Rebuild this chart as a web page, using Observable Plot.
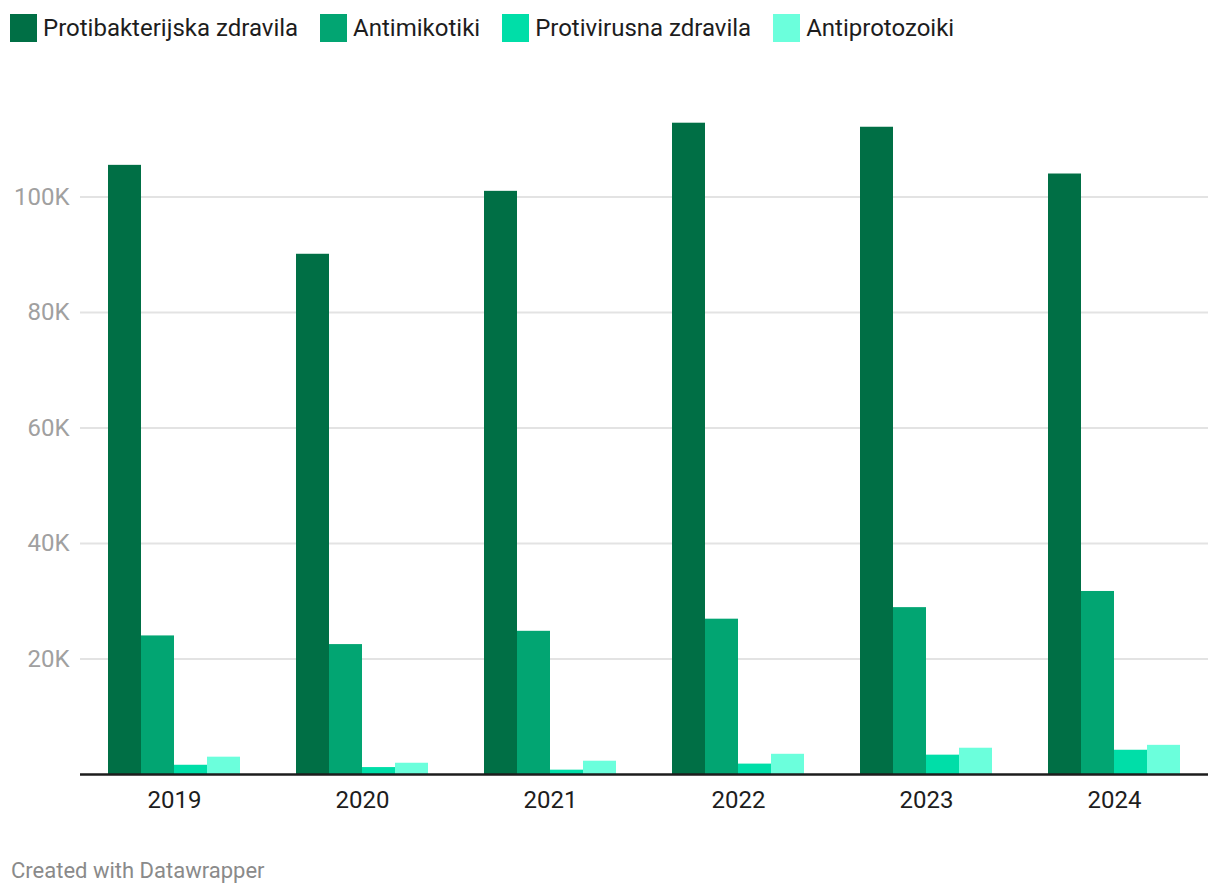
<!DOCTYPE html>
<html>
<head>
<meta charset="utf-8">
<script src="https://cdn.jsdelivr.net/npm/d3@7"></script>
<script src="https://cdn.jsdelivr.net/npm/@observablehq/plot@0.6"></script>
<style>
  html, body { margin: 0; padding: 0; background: #fff; }
  body { width: 1220px; height: 896px; font-family: Roboto, sans-serif; position: relative; overflow: hidden; }
  #legend { position: absolute; left: 10px; top: 14px; display: flex; align-items: center; font-size: 24px; color: #1d1d1d; white-space: nowrap; }
  .item { display: flex; align-items: center; margin-right: 22px; }
  .sw { width: 27px; height: 28px; margin-right: 6px; }
  #chart { position: absolute; left: 0; top: 60px; }
  #caption { position: absolute; left: 11px; top: 858px; font-size: 22px; color: #8a8a8a; }
</style>
</head>
<body>
<div id="legend"></div>
<div id="chart"></div>
<div id="caption">Created with Datawrapper</div>
<script>
const years = ["2019", "2020", "2021", "2022", "2023", "2024"];
const series = ["Protibakterijska zdravila", "Antimikotiki", "Protivirusna zdravila", "Antiprotozoiki"];
const colors = ["#006f45", "#02a572", "#00dea8", "#6bffdc"];
const protibakterijska = [105500, 90100, 101000, 112800, 112100, 104000];
const antimikotiki = [24000, 22500, 24800, 26900, 28900, 31700];
const protivirusna = [1600, 1200, 750, 1800, 3350, 4200];
const antiprotozoiki = [3000, 1950, 2300, 3500, 4550, 5050];
const yTicks = [20000, 40000, 60000, 80000, 100000];

const valuesBySeries = [protibakterijska, antimikotiki, protivirusna, antiprotozoiki];
const data = [];
years.forEach((y, i) => series.forEach((s, j) => data.push({year: y, series: s, value: valuesBySeries[j][i]})));

const legend = document.getElementById("legend");
series.forEach((s, j) => {
  const it = document.createElement("div");
  it.className = "item";
  it.innerHTML = `<div class="sw" style="background:${colors[j]}"></div><span>${s}</span>`;
  legend.appendChild(it);
});

const chart = Plot.plot({
  width: 1220,
  height: 754,
  marginTop: 50,
  marginBottom: 40,
  marginLeft: 77,
  marginRight: 10,
  style: {fontFamily: "Roboto, sans-serif", fontSize: "24px", background: "#fff"},
  fx: {domain: years, padding: 0, label: null},
  x: {domain: series, paddingInner: 0, paddingOuter: 0.84, axis: null},
  y: {domain: [0, 115000], label: null},
  color: {domain: series, range: colors},
  marks: [
    Plot.gridY(yTicks, {stroke: "#e3e3e3", strokeOpacity: 1, strokeWidth: 2}),
    Plot.axisY(yTicks, {tickSize: 0, tickPadding: 11, tickFormat: d => (d / 1000) + "K", fill: "#a0a0a0", fontSize: 24, label: null}),
    Plot.axisFx({anchor: "bottom", tickSize: 0, tickPadding: 16, fill: "#1d1d1d", fontSize: 24, label: null}),
    Plot.barY(data, {fx: "year", x: "series", y: "value", fill: "series", inset: 0}),
    Plot.ruleY([0], {stroke: "#1d1d1d", strokeWidth: 2.5})
  ]
});
document.getElementById("chart").appendChild(chart);
</script>
</body>
</html>
